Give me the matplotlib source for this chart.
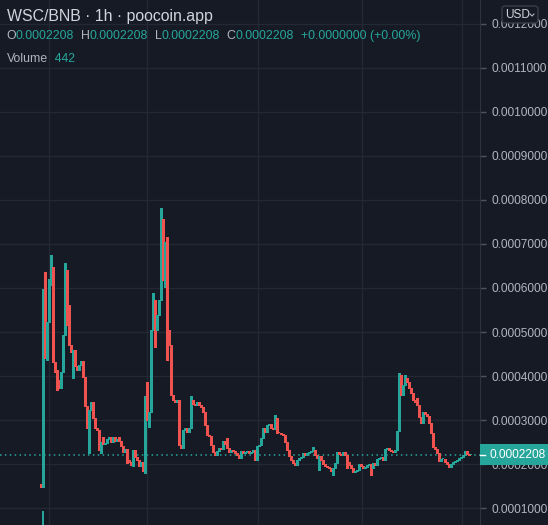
import matplotlib

matplotlib.use("Agg")

import matplotlib.pyplot as plt  # noqa: E402
import matplotlib.transforms as mtransforms  # noqa: E402
import numpy as np  # noqa: E402
from matplotlib.lines import Line2D  # noqa: E402
from matplotlib.patches import FancyBboxPatch, Rectangle  # noqa: E402

BG = "#161a25"
GRID = "#242834"
UP = "#26a69a"
DOWN = "#ef5350"
TEXT = "#b2b5be"
TITLE = "#d1d4dc"
FONT = "Liberation Sans"

W, H = 548, 525

# hourly closes, in units of 1e-7 BNB (open of each candle = previous close)
FIRST_OPEN = 1545
CLOSES = [
    1477, 5977, 4409, 5227, 6068, 6409, 4318, 4136, 3909, 3727,
    4091, 4932, 5727, 5159, 4705, 4545, 4591, 4227, 4136, 4250,
    4341, 3977, 3318, 2818, 3227, 3409, 3045, 2818, 2773, 2318,
    2500, 2455, 2477, 2568, 2614, 2500, 2614, 2523, 2568, 2523,
    2409, 2273, 2341, 2091, 2045, 1977, 2318, 2159, 2091, 1955,
    2045, 1841, 3545, 3000, 3182, 5045, 5727, 5045, 5386, 5727,
    7318, 6182, 7045, 5045, 4705, 3568, 3455, 3409, 3455, 2432,
    2364, 2773, 2818, 2727, 2818, 3455, 3364, 3341, 3409, 3341,
    3295, 3182, 2886, 2659, 2636, 2432, 2273, 2205, 2295, 2364,
    2341, 2523, 2455, 2364, 2273, 2318, 2295, 2250, 2205, 2136,
    2295, 2250, 2273, 2295, 2250, 2273, 2318, 2136, 2409, 2432,
    2591, 2818, 2727, 2886, 2909, 2818, 2795, 3045, 2705, 2700,
    2682, 2659, 2500, 2318, 2182, 2091, 2023, 1977, 2091, 2136,
    2159, 2250, 2205, 2250, 2273, 2295, 2318, 2205, 2136, 2182,
    2091, 2000, 1955, 1932, 1909, 1841, 1909, 2023, 2273, 2227,
    2205, 2273, 2205, 2045, 1977, 1909, 1818, 1841, 1864, 2000,
    1955, 1909, 1932, 1977, 2000, 1909, 2023, 1977, 2114, 2136,
    2159, 2091, 2341, 2364, 2318, 2295, 2273, 2318, 2750, 3909,
    3568, 3795, 3955, 3864, 3727, 3614, 3455, 3409, 3341, 3068,
    2932, 3182, 3136, 3091, 2932, 2705, 2386, 2341, 2250, 2068,
    2114, 2125, 2045, 2000, 1932, 2000, 2045, 2068, 2091, 2136,
    2159, 2205, 2295, 2227, 2208, 2208,
]
# wick extremes that reach beyond the candle body
HIGH_WICKS = {
    2: 6364, 4: 6205, 5: 6750, 6: 6477, 12: 6568, 13: 6409, 14: 5614,
    31: 2614, 39: 2614, 53: 3864, 56: 5886, 60: 7818, 61: 7568, 63: 7159,
    75: 3545, 93: 2591, 117: 3114, 136: 2386, 179: 4068, 180: 4023,
    182: 4023, 188: 3500,
}
LOW_WICKS = {
    3: 4364, 7: 4091, 8: 3682, 16: 3955, 24: 2250, 30: 2250, 43: 2023,
    46: 1955, 52: 1795, 54: 2841, 57: 4659, 62: 6023, 63: 4364, 107: 2091,
    108: 2091, 139: 1864, 146: 1750, 153: 1909, 165: 1750,
}
# only the first candle's volume bar is tall enough to show
VOLUME_BARS = {1: 1.0}

LAST_PRICE = 0.0002208
PRICE_TICKS = [0.0001, 0.0002, 0.0003, 0.0004, 0.0005, 0.0006,
               0.0007, 0.0008, 0.0009, 0.0010, 0.0011, 0.0012]
TIME_GRID = [4, 53, 108.5, 160.5, 210.5]

closes = np.array(CLOSES, dtype=float) * 1e-7
opens = np.concatenate([[FIRST_OPEN * 1e-7], closes[:-1]])
highs = np.maximum(opens, closes)
lows = np.minimum(opens, closes)
for i, v in HIGH_WICKS.items():
    highs[i] = max(highs[i], v * 1e-7)
for i, v in LOW_WICKS.items():
    lows[i] = min(lows[i], v * 1e-7)
idx = np.arange(len(closes))
colors = np.where(closes >= opens, UP, DOWN)

plt.rcParams["font.family"] = [FONT, "DejaVu Sans"]

fig = plt.figure(figsize=(W / 100, H / 100), dpi=100, facecolor=BG)
ax = fig.add_axes([0, 0, 480 / W, 1])
ax.set_facecolor(BG)
ax.set_xlim(-20.5, 219.5)
ax.set_ylim(0.0000614, 0.0012545)

# grid
for p in PRICE_TICKS:
    ax.axhline(p, color=GRID, lw=1, zorder=0)
for t in TIME_GRID:
    ax.axvline(t, color=GRID, lw=1, zorder=0)

# volume overlay
vax = ax.twinx()
vax.set_ylim(0, 37.5)
vax.set_xlim(ax.get_xlim())
vax.bar(list(VOLUME_BARS.keys()), list(VOLUME_BARS.values()), width=0.55,
        color=UP, linewidth=0)
vax.axis("off")

# candles
min_body = 1.0 / 440000
ax.vlines(idx, lows, highs, colors=colors, lw=0.75, zorder=3,
          antialiased=False)
ax.bar(idx, np.maximum(np.abs(closes - opens), min_body),
       bottom=np.minimum(opens, closes), width=0.8, color=colors,
       linewidth=0, zorder=3)

ax.axhline(LAST_PRICE, color=UP, lw=1.1, ls=(0, (1, 2.2)), zorder=2)

# price scale
for s in ["top", "left", "bottom"]:
    ax.spines[s].set_visible(False)
ax.spines["right"].set_color("#2f333e")
ax.set_xticks([])
ax.yaxis.tick_right()
ax.set_yticks(PRICE_TICKS)
ax.set_yticklabels([f"{p:.7f}" for p in PRICE_TICKS])
ax.tick_params(axis="y", length=4, width=1, color="#50535e", pad=4,
               labelsize=8.6, labelcolor=TEXT)

blend = mtransforms.blended_transform_factory(ax.transAxes, ax.transData)
ax.add_patch(Rectangle((1.0, LAST_PRICE - 0.0000238), 68 / 480, 0.0000476,
                       transform=blend, facecolor=UP, edgecolor="none",
                       clip_on=False, zorder=10))
ax.plot([1.0, 1.0 + 5 / 480], [LAST_PRICE, LAST_PRICE], color="white",
        lw=1, transform=blend, clip_on=False, zorder=11)
ax.text(1.0 + 9 / 480, LAST_PRICE, f"{LAST_PRICE:.7f}", transform=blend,
        color="white", fontsize=8.6, va="center", ha="left", zorder=12)

# USD button
fig.patches.append(FancyBboxPatch((502 / W, 1 - 23 / H), 36 / W, 17 / H,
                                  boxstyle="round,pad=0,rounding_size=0.006",
                                  transform=fig.transFigure, facecolor=BG,
                                  edgecolor="#3a3e4a", lw=1, zorder=20))
fig.text(505 / W, 1 - 14.5 / H, "USD", color=TITLE, fontsize=8.6,
         va="center", ha="left", zorder=21)
fig.add_artist(Line2D([530 / W, 532 / W, 534 / W],
                      [1 - 14 / H, 1 - 16 / H, 1 - 14 / H],
                      transform=fig.transFigure, color=TEXT, lw=0.8, zorder=21))

# legend header
renderer = fig.canvas.get_renderer()


def _segments(x_px, y_px, parts, size):
    x = x_px
    for txt, col in parts:
        t = fig.text(x / W, 1 - y_px / H, txt, color=col, fontsize=size,
                     va="center", ha="left")
        x = t.get_window_extent(renderer).x1


_segments(7, 16, [("WSC/BNB · 1h · poocoin.app", TITLE)], 11.4)
_segments(6, 36, [("O", TEXT), ("0.0002208", UP), ("  H", TEXT),
                  ("0.0002208", UP), ("  L", TEXT), ("0.0002208", UP),
                  ("  C", TEXT), ("0.0002208", UP),
                  ("  +0.0000000 (+0.00%)", UP)], 8.9)
_segments(7, 59, [("Volume", TEXT), ("  442", UP)], 8.8)

fig.savefig("out.png", dpi=100, facecolor=BG)
